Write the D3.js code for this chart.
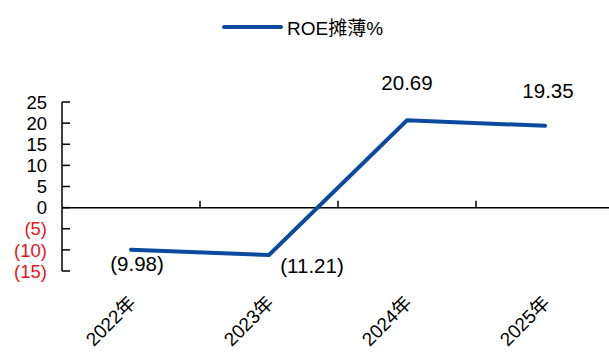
<!DOCTYPE html>
<html>
<head>
<meta charset="utf-8">
<script src="https://cdn.jsdelivr.net/npm/d3@7"></script>
<style>
  html, body { margin: 0; padding: 0; background: #fff; }
  svg { display: block; }
  text { font-family: "Liberation Sans", Arial, "Noto Sans CJK SC", sans-serif; }
</style>
</head>
<body>
<svg id="chart" width="609" height="352"></svg>
<script>
// Diluted ROE by year (%)
const years = ["2022年", "2023年", "2024年", "2025年"];
const roe = [-9.98, -11.21, 20.69, 19.35];
const yTicks = [25, 20, 15, 10, 5, 0, -5, -10, -15];
const seriesName = "ROE摊薄%";

// Label nudges (dx, dy) relative to each point
const labelOffsets = [[6, 21], [43, 18], [0, -30], [3, -28]];

const svg = d3.select("#chart");
const blue = "#0B4A9E";
const fmt = v => v < 0 ? "(" + d3.format(".2f")(-v) + ")" : d3.format(".2f")(v);
const fmtTick = v => v < 0 ? "(" + (-v) + ")" : String(v);

const x = d3.scaleBand().domain(years).range([62, 614]);
const y = d3.scaleLinear().domain([-15, 25]).range([271, 102]);

// Y axis: vertical line with inward ticks
const yAxis = svg.append("g");
yAxis.append("line")
  .attr("x1", 62).attr("x2", 62)
  .attr("y1", y(25)).attr("y2", y(-15))
  .attr("stroke", "#000").attr("stroke-width", 1.5);
yAxis.selectAll("line.tick").data(yTicks).join("line")
  .attr("class", "tick")
  .attr("x1", 62).attr("x2", 70)
  .attr("y1", d => y(d)).attr("y2", d => y(d))
  .attr("stroke", "#000").attr("stroke-width", 1.5);
yAxis.selectAll("text").data(yTicks).join("text")
  .attr("x", 47).attr("y", d => y(d))
  .attr("dy", "0.36em")
  .attr("text-anchor", "end")
  .attr("font-size", 18.5)
  .attr("fill", d => d < 0 ? "#E8141B" : "#000")
  .text(fmtTick);

// Category axis along zero
const xAxis = svg.append("g");
xAxis.append("line")
  .attr("x1", 62).attr("x2", 609)
  .attr("y1", y(0)).attr("y2", y(0))
  .attr("stroke", "#000").attr("stroke-width", 1.5);
xAxis.selectAll("line.tick").data(years.slice(1)).join("line")
  .attr("class", "tick")
  .attr("x1", d => x(d)).attr("x2", d => x(d))
  .attr("y1", y(0)).attr("y2", y(0) - 7)
  .attr("stroke", "#000").attr("stroke-width", 1.5);
xAxis.selectAll("text").data(years).join("text")
  .attr("transform", d => `translate(${x(d) + x.bandwidth() / 2 + 6},${304}) rotate(-45)`)
  .attr("text-anchor", "end")
  .attr("font-size", 19)
  .attr("fill", "#000")
  .text(d => d);

// Series line
const pts = years.map((d, i) => ({ year: d, value: roe[i] }));
const line = d3.line()
  .x(d => x(d.year) + x.bandwidth() / 2)
  .y(d => y(d.value));
svg.append("path")
  .datum(pts)
  .attr("d", line)
  .attr("fill", "none")
  .attr("stroke", blue)
  .attr("stroke-width", 4)
  .attr("stroke-linejoin", "miter")
  .attr("stroke-linecap", "round");

// Value labels
svg.selectAll("text.val").data(pts).join("text")
  .attr("class", "val")
  .attr("x", (d, i) => x(d.year) + x.bandwidth() / 2 + labelOffsets[i][0])
  .attr("y", (d, i) => y(d.value) + labelOffsets[i][1])
  .attr("text-anchor", "middle")
  .attr("font-size", 20.5)
  .attr("fill", "#000")
  .text(d => fmt(d.value));

// Legend
const legend = svg.append("g");
legend.append("line")
  .attr("x1", 224).attr("x2", 281)
  .attr("y1", 27).attr("y2", 27)
  .attr("stroke", blue).attr("stroke-width", 4)
  .attr("stroke-linecap", "round");
legend.append("text")
  .attr("x", 287).attr("y", 35)
  .attr("font-size", 19)
  .attr("fill", "#000")
  .text(seriesName);
</script>
</body>
</html>
